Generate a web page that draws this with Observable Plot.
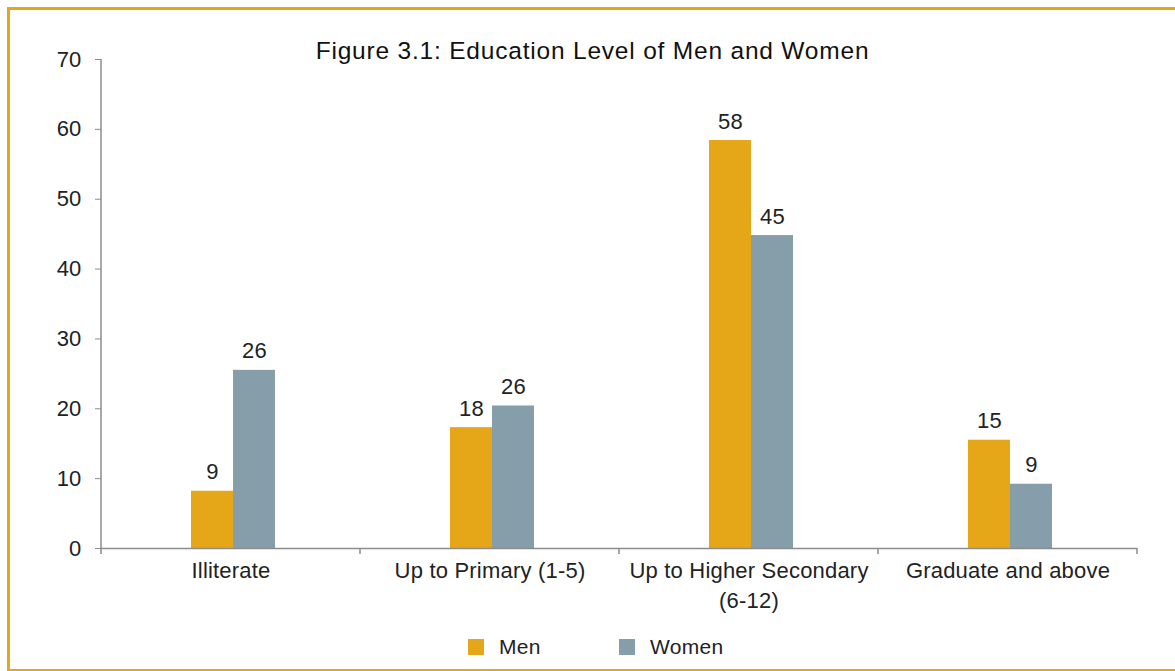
<!DOCTYPE html>
<html>
<head>
<meta charset="utf-8">
<script src="https://cdn.jsdelivr.net/npm/d3@7"></script>
<script src="https://cdn.jsdelivr.net/npm/@observablehq/plot@0.6"></script>
<style>
  html, body { margin: 0; padding: 0; background: #fff; overflow: hidden; }
  #wrap { position: relative; width: 1175px; height: 671px; font-family: "Liberation Sans", Arial, Helvetica, sans-serif; color: #222; }
  #border { position: absolute; left: 7px; top: 7px; width: 1180px; height: 659px; border: 3px solid #E5A718; box-sizing: content-box; }
  #title { position: absolute; left: 0; width: 1185px; top: 37px; text-align: center; font-size: 24.5px; letter-spacing: 0.8px; line-height: 28px; color: #111; }
  #legend { position: absolute; top: 636px; left: 0; width: 1175px; height: 24px; font-size: 21px; letter-spacing: 0.3px; }
  .sw { position: absolute; top: 3px; width: 16px; height: 16px; }
  .lt { position: absolute; top: -1px; line-height: 24px; }
  #chart { position: absolute; left: 0; top: 0; }
  #chart svg text { letter-spacing: 0.2px; }
</style>
</head>
<body>
<div id="wrap">
  <div id="border"></div>
  <div id="chart"></div>
  <div id="title">Figure 3.1: Education Level of Men and Women</div>
  <div id="legend"></div>
</div>
<script>
const categories = ["Illiterate", "Up to Primary (1-5)", "Up to Higher Secondary\n(6-12)", "Graduate and above"];
const series = ["Men", "Women"];
const men = [8.2, 17.3, 58.4, 15.5];
const women = [25.5, 20.4, 44.8, 9.2];
const menLabels = ["9", "18", "58", "15"];
const womenLabels = ["26", "26", "45", "9"];
const yTicks = [0, 10, 20, 30, 40, 50, 60, 70];
const colors = ["#E5A718", "#869DAA"];

const rows = [];
categories.forEach((c, i) => {
  rows.push({category: c, sex: "Men", value: men[i], label: menLabels[i]});
  rows.push({category: c, sex: "Women", value: women[i], label: womenLabels[i]});
});

const axisGray = "#8c8c8c";
const chart = Plot.plot({
  width: 1175,
  height: 671,
  marginLeft: 101,
  marginRight: 38,
  marginTop: 59,
  marginBottom: 123,
  style: {fontFamily: "'Liberation Sans', Arial, Helvetica, sans-serif", fontSize: "22px", color: "#222", background: "transparent"},
  fx: {domain: categories, padding: 0, label: null},
  x: {domain: series, paddingInner: 0, paddingOuter: 2.05, align: 0.512, axis: null},
  y: {domain: [0, 70], label: null, axis: null},
  color: {domain: series, range: colors},
  marks: [
    Plot.barY(rows, {fx: "category", x: "sex", y: "value", fill: "sex"}),
    Plot.text(rows, {fx: "category", x: "sex", y: "value", text: "label", dy: -19, lineAnchor: "middle", fontSize: 22, fill: "#222"}),
    Plot.ruleY([0], {stroke: axisGray, strokeWidth: 1.5}),
    Plot.axisY({ticks: yTicks, tickSize: 6, tickPadding: 14, fontSize: 22, stroke: axisGray, fill: "#222", label: null, tickFormat: d => d}),
    Plot.axisFx({anchor: "bottom", tickSize: 0, tickPadding: 8, fontSize: 22, fill: "#222", label: null, lineHeight: 1.36})
  ]
});
document.getElementById("chart").appendChild(chart);

// axis line and category boundary ticks from the library's scales
const fx = chart.scale("fx");
const y = chart.scale("y");
const svg = d3.select(chart);
const x0 = fx.apply(categories[0]);
const y0 = y.apply(0);
const yTop = y.apply(70);
svg.append("line").attr("x1", x0).attr("x2", x0).attr("y1", yTop).attr("y2", y0)
  .attr("stroke", axisGray).attr("stroke-width", 1.5);
const bounds = categories.map(c => fx.apply(c));
bounds.push(fx.apply(categories[categories.length - 1]) + fx.bandwidth);
svg.selectAll("line.ctick").data(bounds).join("line").attr("class", "ctick")
  .attr("x1", d => d).attr("x2", d => d).attr("y1", y0).attr("y2", y0 + 6)
  .attr("stroke", axisGray).attr("stroke-width", 1.5);

// legend
const legend = document.getElementById("legend");
const legendX = [468, 619];
series.forEach((s, i) => {
  const sw = document.createElement("div");
  sw.className = "sw"; sw.style.left = legendX[i] + "px"; sw.style.background = colors[i];
  const t = document.createElement("div");
  t.className = "lt"; t.style.left = (legendX[i] + 31) + "px"; t.textContent = s;
  legend.appendChild(sw); legend.appendChild(t);
});
</script>
</body>
</html>
